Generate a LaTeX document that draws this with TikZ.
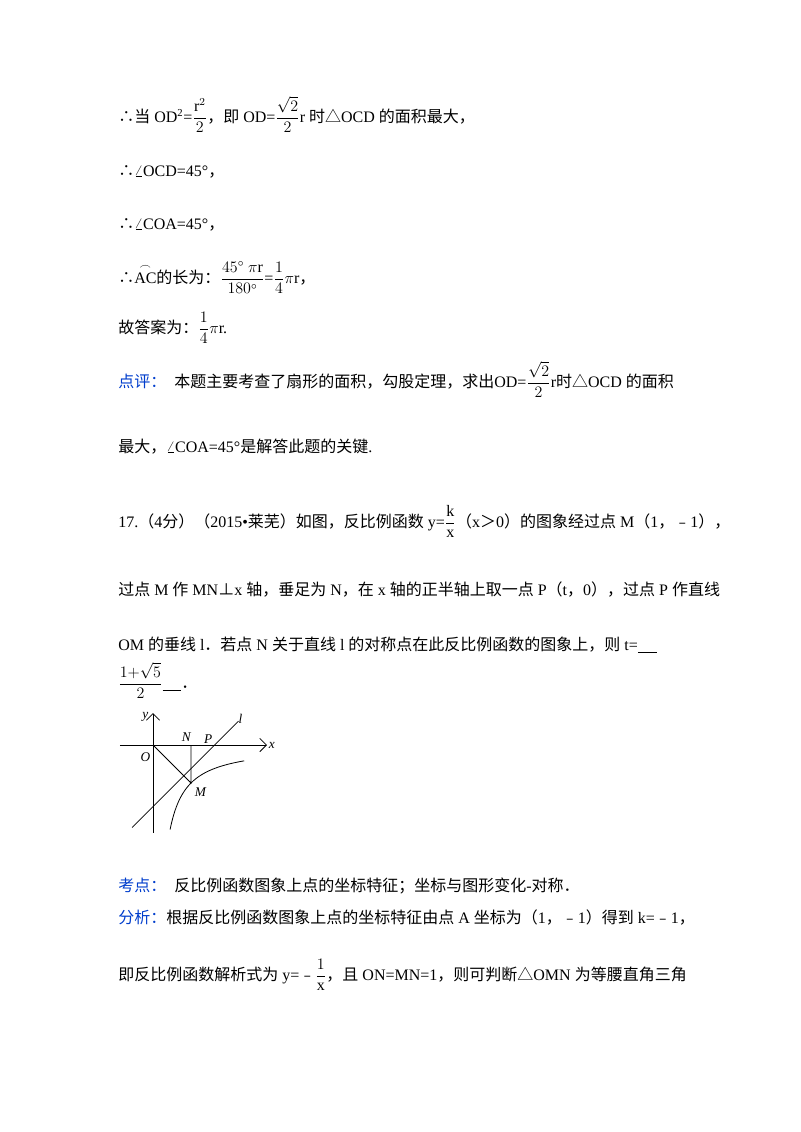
\documentclass[tikz,border=0pt]{standalone}
\usepackage{amsmath}
\usepackage{fontspec}
\usetikzlibrary{arrows.meta}
\setmainfont{Liberation Serif}
\newfontfamily\cjk{Noto Sans CJK SC}
\newcommand\zh[1]{{\cjk #1}}
\begin{document}
\begin{tikzpicture}[x=0.75pt,y=-0.75pt,
  txt/.style={anchor=base west,inner sep=0pt,font=\fontsize{12}{14}\selectfont},
  lbl/.style={inner sep=0pt,font=\fontsize{10}{12}\selectfont\itshape},
  ax/.style={line width=0.6pt,-{Straight Barb[length=5pt]}},
  fig/.style={line width=0.6pt}]
\useasboundingbox (0,0) rectangle (800,1132);
\colorlet{hl}{blue!70!cyan!80!black}
\node[txt] (l1) at (118,122) {\zh{∴当} OD\textsuperscript{2}=$\dfrac{\mathrm{r}^2}{2}$\zh{，即} OD=$\dfrac{\sqrt2}{2}$r \zh{时△}OCD \zh{的面积最大，}};
\node[txt] (l2) at (118,176) {\zh{∴}$\angle$OCD=45°\zh{，}};
\node[txt] (l3) at (118,229) {\zh{∴}$\angle$COA=45°\zh{，}};
\node[txt] (l4) at (118,283) {\zh{∴}$\overset{\frown}{\mathrm{AC}}$\zh{的长为：}$\dfrac{45^\circ\ \pi\mathrm{r}}{180^\circ}$=$\dfrac14$$\pi$r\zh{，}};
\node[txt] (l5) at (118,333) {\zh{故答案为：}$\dfrac14\pi$r.};
\node[txt] (l6) at (118,387) {\textcolor{hl}{\zh{点评：}}\ \ \zh{本题主要考查了扇形的面积，勾股定理，求出}OD=$\dfrac{\sqrt2}{2}$r\zh{时△}OCD \zh{的面积}};
\node[txt] (l7) at (118,452) {\zh{最大，}$\angle$COA=45°\zh{是解答此题的关键}.};
\node[txt] (l8) at (118,527) {17.\zh{（}4\zh{分）（}2015•\zh{莱芜）如图，反比例函数} y=$\dfrac{\mathrm{k}}{\mathrm{x}}$\zh{（}x\zh{＞}0\zh{）的图象经过点} M\zh{（}1\zh{，﹣}1\zh{），}};
\node[txt] (l9) at (118,595) {\zh{过点} M \zh{作} MN\zh{⊥}x \zh{轴，垂足为} N\zh{，在} x \zh{轴的正半轴上取一点} P\zh{（}t\zh{，}0\zh{），过点} P \zh{作直线}};
\node[txt] (l10) at (118,650) {OM \zh{的垂线} l\zh{．若点} N \zh{关于直线} l \zh{的对称点在此反比例函数的图象上，则} t=\underline{\hspace{14pt}}};
\node[txt] (l11) at (118,688) {$\dfrac{1{+}\sqrt5}{2}$\underline{\hspace{14pt}}\zh{．}};
\node[txt] (l12) at (118,891) {\textcolor{hl}{\zh{考点：}}\ \ \zh{反比例函数图象上点的坐标特征；坐标与图形变化}-\zh{对称．}};
\node[txt] (l13) at (118,923) {\textcolor{hl}{\zh{分析：}}\zh{根据反比例函数图象上点的坐标特征由点} A \zh{坐标为（}1\zh{，﹣}1\zh{）得到} k=\zh{﹣}1\zh{，}};
\node[txt] (l14) at (118,980) {\zh{即反比例函数解析式为} y=\zh{﹣}$\dfrac{1}{\mathrm{x}}$\zh{，且} ON=MN=1\zh{，则可判断△}OMN \zh{为等腰直角三角}};
% figure
\begin{scope}[shift={(153,745)},x=28.5pt,y=28.5pt]
\coordinate (O) at (0,0);
\coordinate (N) at (1,0);
\coordinate (M) at (1,-1);
\coordinate (P) at (1.618,0);
\coordinate (xs) at (-0.87,0); \coordinate (xe) at (3.0,0);
\coordinate (ys) at (0,-2.31); \coordinate (ye) at (0,0.84);
\coordinate (ls) at (-0.55,-2.17); \coordinate (le) at (2.25,0.63);
\draw[ax] (xs) -- (xe);
\draw[ax] (ys) -- (ye);
\draw[fig] (O) -- (M) -- (N);
\draw[fig] (ls) -- (le);
\draw[fig,domain=0.45:2.4,samples=60] plot (\x,{-1/\x});
\node[lbl] (xl) at (3.13,0) {x};
\node[lbl] (yl) at (-0.2,0.73) {y};
\node[lbl] (Ol) at (-0.2,-0.32) {O};
\node[lbl] (Nl) at (0.88,0.22) {N};
\node[lbl] (Pl) at (1.45,0.15) {P};
\node[lbl] (Ml) at (1.25,-1.25) {M};
\node[lbl] (ll) at (2.3,0.68) {l};
\end{scope}
\end{tikzpicture}
\end{document}
